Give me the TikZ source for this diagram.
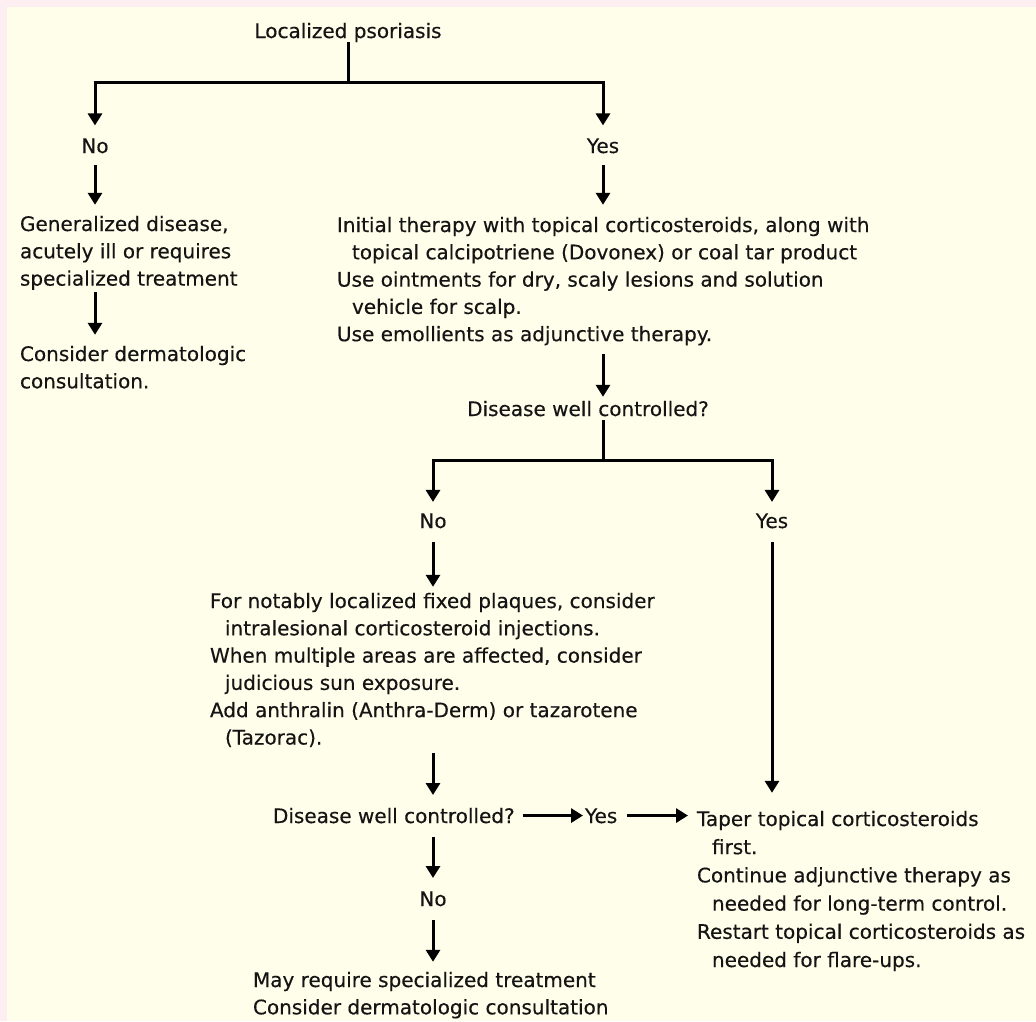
\documentclass[tikz,border=0pt]{standalone}
\usepackage{fontspec}
\setmainfont[FakeBold=0.35]{DejaVu Sans}
\usetikzlibrary{arrows.meta}
\definecolor{pinkbg}{RGB}{253,238,242}
\definecolor{creambg}{RGB}{255,254,234}
\definecolor{ink}{RGB}{20,20,20}
\begin{document}
\begin{tikzpicture}[x=1pt,y=-1pt,
  txt/.style={inner sep=0pt, outer sep=0pt, align=left, text=ink, font=\fontsize{20}{27.3}\selectfont},
  txtb/.style={txt, font=\fontsize{20}{28.2}\selectfont},
  ln/.style={line width=3pt, draw=black},
  arr/.style={line width=3pt, draw=black, -{Triangle[length=12pt,width=14pt]}},
]
\fill[pinkbg] (0,0) rectangle (1036,1021);
\fill[creambg] (7,7) rectangle (1036,1021);
\useasboundingbox (0,0) rectangle (1036,1021);

% nodes
\node[txt, anchor=base] (loc) at (348,38) {Localized psoriasis};
\coordinate (j1) at (348,82);
\node[txt, anchor=base] (no1) at (95,153) {No};
\node[txt, anchor=base] (yes1) at (603,153) {Yes};
\node[txt, anchor=north west] (gen) at (20,215.8) {Generalized disease,\\acutely ill or requires\\specialized treatment};
\node[txt, anchor=north west] (cons1) at (20,345.8) {Consider dermatologic\\consultation.};
\node[txt, anchor=north west] (init) at (337,216.8) {Initial therapy with topical corticosteroids, along with\\\hspace*{15pt}topical calcipotriene (Dovonex) or coal tar product\\Use ointments for dry, scaly lesions and solution\\\hspace*{15pt}vehicle for scalp.\\Use emollients as adjunctive therapy.};
\node[txt, anchor=base] (dwc1) at (588,416) {Disease well controlled?};
\coordinate (j2) at (603,460);
\node[txt, anchor=base] (no2) at (433,528) {No};
\node[txt, anchor=base] (yes2) at (772,528) {Yes};
\node[txt, anchor=north west] (plaq) at (210,592.8) {For notably localized fixed plaques, consider\\\hspace*{15pt}intralesional corticosteroid injections.\\When multiple areas are affected, consider\\\hspace*{15pt}judicious sun exposure.\\Add anthralin (Anthra-Derm) or tazarotene\\\hspace*{15pt}(Tazorac).};
\node[txt, anchor=base west] (dwc2) at (273,823) {Disease well controlled?};
\node[txt, anchor=base west] (yes3) at (585,823) {Yes};
\node[txtb, anchor=north west] (taper) at (697,810.8) {Taper topical corticosteroids\\\hspace*{15pt}first.\\Continue adjunctive therapy as\\\hspace*{15pt}needed for long-term control.\\Restart topical corticosteroids as\\\hspace*{15pt}needed for flare-ups.};
\node[txt, anchor=base] (no3) at (433,906) {No};
\node[txt, anchor=north west] (may) at (253,971.8) {May require specialized treatment\\Consider dermatologic consultation};

% connectors
\draw[ln] (loc.south) -- (j1);
\draw[arr, shorten >=13pt] (j1) -| (no1.north);
\draw[arr, shorten >=13pt] (j1) -| (yes1.north);
\draw[arr, shorten <=12pt, shorten >=11pt] (no1.base) -- (no1.base |- gen.north);
\draw[arr, shorten <=12pt, shorten >=12pt] (yes1.base) -- (yes1.base |- init.north);
\draw[arr, shorten <=2pt, shorten >=11pt] (no1.base |- gen.south) -- (no1.base |- cons1.north);
\draw[arr, shorten <=9pt, shorten >=4pt] (yes1.base |- init.south) -- (yes1.base |- dwc1.north);
\draw[ln, shorten <=4pt] (yes1.base |- dwc1.south) -- (j2);
\draw[arr, shorten >=11.5pt] (j2) -| (no2.north);
\draw[arr, shorten >=11.5pt] (j2) -| (yes2.north);
\draw[arr, shorten <=14pt, shorten >=6pt] (no2.base) -- (no2.base |- plaq.north);
\draw[arr, shorten <=14pt, shorten >=18pt] (yes2.base) -- (yes2.base |- taper.north);
\draw[arr, shorten <=6pt, shorten >=12.8pt] (no2.base |- plaq.south) -- (no2.base |- dwc2.north);
\draw[arr, shorten <=8pt, shorten >=2pt] (dwc2.east) -- (yes3.west |- dwc2.east);
\draw[arr, shorten <=10pt, shorten >=9pt] (yes3.east |- dwc2.east) -- (taper.west |- dwc2.east);
\draw[arr, shorten <=14pt, shorten >=13.4pt] (no2.base |- dwc2.south) -- (no3.north);
\draw[arr, shorten <=14pt, shorten >=10pt] (no3.base) -- (no3.base |- may.north);
\end{tikzpicture}
\end{document}
